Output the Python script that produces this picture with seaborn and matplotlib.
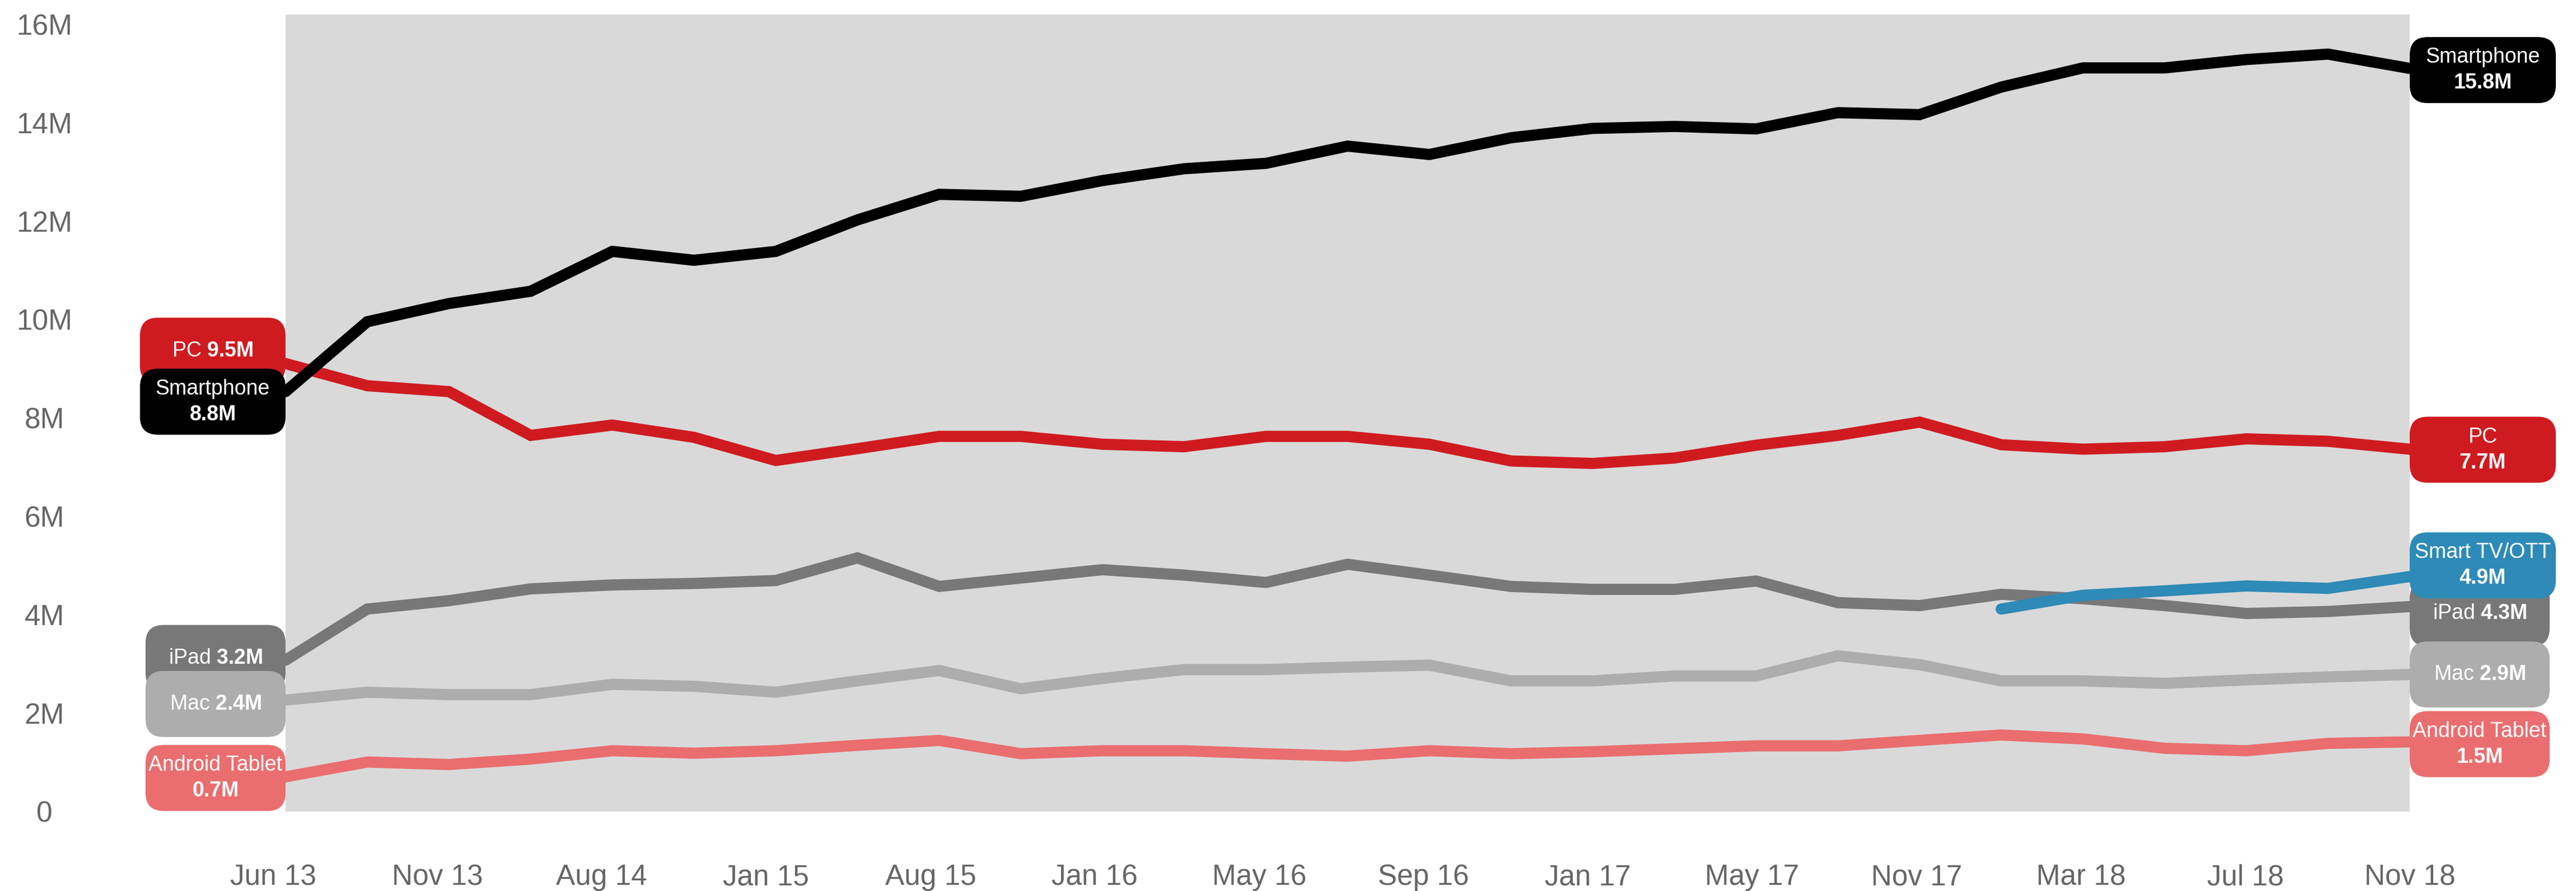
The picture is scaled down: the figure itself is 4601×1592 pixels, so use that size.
import numpy as np
import pandas as pd
import matplotlib
matplotlib.use("Agg")
import matplotlib.pyplot as plt
import matplotlib.transforms as mtransforms
import seaborn as sns
from matplotlib.patches import FancyBboxPatch

# ---------------- data (millions) ----------------
tick_labels = ["Jun 13", "Nov 13", "Aug 14", "Jan 15", "Aug 15", "Jan 16", "May 16",
               "Sep 16", "Jan 17", "May 17", "Nov 17", "Mar 18", "Jul 18", "Nov 18"]

smartphone = [8.53, 9.95, 10.32, 10.57, 11.38, 11.20, 11.38, 12.02, 12.54, 12.50, 12.82, 13.06,
              13.17, 13.52, 13.35, 13.69, 13.88, 13.92, 13.87, 14.20, 14.16, 14.72, 15.11, 15.11,
              15.28, 15.39, 15.10]
pc = [9.10, 8.65, 8.53, 7.64, 7.85, 7.60, 7.13, 7.37, 7.62, 7.62, 7.46, 7.41, 7.62, 7.62, 7.46,
      7.12, 7.07, 7.18, 7.44, 7.64, 7.91, 7.45, 7.36, 7.41, 7.57, 7.52, 7.36]
ipad = [3.07, 4.11, 4.28, 4.52, 4.60, 4.63, 4.69, 5.15, 4.57, 4.74, 4.91, 4.80, 4.65, 5.02, 4.80,
        4.57, 4.51, 4.51, 4.68, 4.24, 4.18, 4.41, 4.32, 4.18, 4.02, 4.06, 4.16]
mac = [2.26, 2.42, 2.37, 2.37, 2.58, 2.54, 2.42, 2.65, 2.86, 2.49, 2.70, 2.88, 2.88, 2.93, 2.97,
       2.65, 2.65, 2.75, 2.75, 3.16, 2.98, 2.65, 2.65, 2.60, 2.67, 2.73, 2.78]
android_tablet = [0.70, 1.00, 0.95, 1.06, 1.23, 1.18, 1.23, 1.34, 1.44, 1.17, 1.23, 1.23, 1.17,
                  1.12, 1.23, 1.17, 1.21, 1.27, 1.33, 1.33, 1.44, 1.55, 1.47, 1.28, 1.23, 1.38, 1.41]
smart_tv = [None] * 21 + [4.11, 4.39, 4.48, 4.58, 4.53, 4.77]

series_names = ["Smartphone", "PC", "iPad", "Mac", "Android Tablet", "Smart TV/OTT"]
series_values = [smartphone, pc, ipad, mac, android_tablet, smart_tv]

start_labels = {"PC": "9.5M", "Smartphone": "8.8M", "iPad": "3.2M", "Mac": "2.4M",
                "Android Tablet": "0.7M"}
end_labels = {"Smartphone": "15.8M", "PC": "7.7M", "iPad": "4.3M", "Smart TV/OTT": "4.9M",
              "Mac": "2.9M", "Android Tablet": "1.5M"}

# ---------------- style ----------------
colors = {"Smartphone": "#000000", "PC": "#cf1b20", "iPad": "#787878", "Mac": "#adadad",
          "Android Tablet": "#ea6e70", "Smart TV/OTT": "#2e8ab6"}
draw_order = ["Android Tablet", "Mac", "iPad", "PC", "Smart TV/OTT", "Smartphone"]

sns.set_theme(style="white")
plt.rcParams["font.family"] = ["Liberation Sans", "DejaVu Sans"]
plt.rcParams["mathtext.fontset"] = "custom"
plt.rcParams["mathtext.rm"] = "Liberation Sans"
plt.rcParams["mathtext.bf"] = "Liberation Sans:bold"
plt.rcParams["mathtext.it"] = "Liberation Sans:italic"

rows = []
for name, vals in zip(series_names, series_values):
    for i, v in enumerate(vals):
        if v is not None:
            rows.append({"idx": i, "value": v, "series": name})
df = pd.DataFrame(rows)

W, H = 4601, 1592
DPI = 100
fig = plt.figure(figsize=(W / DPI, H / DPI), dpi=DPI)
fig.patch.set_facecolor("white")
ax_left, ax_right, ax_top, ax_bot = 510, 4304, 25.5, 1449.5
ax = fig.add_axes([ax_left / W, 1 - ax_bot / H, (ax_right - ax_left) / W, (ax_bot - ax_top) / H])
ax.set_facecolor("#d9d9d9")

sns.lineplot(data=df, x="idx", y="value", hue="series", hue_order=draw_order,
             palette=colors, linewidth=14.4, estimator=None, sort=False,
             legend=False, ax=ax)
for ln in ax.get_lines():
    ln.set_solid_capstyle("round")
    ln.set_solid_joinstyle("miter")

n = len(smartphone)
tick_idx = list(range(0, n, 2))
ax.set_xticks(tick_idx)
ax.set_xticklabels(tick_labels)
ax.set_xlim(0, n - 1)
ax.set_ylim(0, 16.2)
yt = list(range(0, 17, 2))
ax.set_yticks(yt)
ax.set_yticklabels(["0" if t == 0 else f"{t}M" for t in yt])
ax.set_xlabel("")
ax.set_ylabel("")
ax.tick_params(length=0, labelsize=37, labelcolor="#666666")
ax.tick_params(axis="x", pad=67.5)
ax.tick_params(axis="y", pad=310)
for lab in ax.get_yticklabels():
    lab.set_horizontalalignment("center")

# category labels are spread evenly; the first one sits a little left of the first point
px_per_idx = (ax_right - ax_left) / (n - 1)
first_shift = -0.153
step = ((n - 1) - first_shift) / (len(tick_labels) - 1)
for k, lab in enumerate(ax.get_xticklabels()):
    dx_px = (first_shift + k * step - tick_idx[k]) * px_per_idx
    lab.set_transform(lab.get_transform() +
                      mtransforms.ScaledTranslation(dx_px / DPI, 0, fig.dpi_scale_trans))

for s in ax.spines.values():
    s.set_visible(False)
ax.grid(False)

# ---------------- label boxes (overlay in pixel space) ----------------
ov = fig.add_axes([0, 0, 1, 1], zorder=10)
ov.set_xlim(0, W)
ov.set_ylim(H, 0)
ov.axis("off")
ov.patch.set_alpha(0)

box_h = 118
# (name, width, pixel offset from line end, two lines?)
left_specs = [("PC", 260, -23, False), ("Smartphone", 260, 18, True), ("iPad", 250, -4, False),
              ("Mac", 250, 7, False), ("Android Tablet", 250, 2, True)]
right_specs = [("Smartphone", 261, 3, True), ("PC", 261, 1, True), ("iPad", 250, 12, False),
               ("Smart TV/OTT", 261, -20, True), ("Mac", 250, 0, False),
               ("Android Tablet", 250, 4, True)]
vals_by_name = dict(zip(series_names, series_values))


def pix_y(i, v):
    return H - ax.transData.transform((i, v))[1]


def draw_box(x0, w, cy, name, val, two_lines, color):
    patch = FancyBboxPatch((x0, cy - box_h / 2), w, box_h,
                           boxstyle="round,pad=0,rounding_size=32",
                           facecolor=color, edgecolor="none")
    ov.add_patch(patch)
    cx = x0 + w / 2
    if two_lines:
        ov.text(cx, cy - 23, name, color="white", fontsize=27, ha="center", va="center")
        ov.text(cx, cy + 23, val, color="white", fontsize=27, fontweight="bold",
                ha="center", va="center")
    else:
        ov.text(cx, cy, f"{name} $\\mathbf{{{val}}}$", color="white", fontsize=27,
                ha="center", va="center")


for name, w, off, two in left_specs:
    vals = vals_by_name[name]
    i0 = next(i for i, v in enumerate(vals) if v is not None)
    cy = pix_y(i0, vals[i0]) + off
    draw_box(ax_left - w, w, cy, name, start_labels[name], two, colors[name])

for name, w, off, two in right_specs:
    vals = vals_by_name[name]
    cy = pix_y(n - 1, vals[-1]) + off
    draw_box(ax_right, w, cy, name, end_labels[name], two, colors[name])

fig.savefig("out.png", dpi=DPI, facecolor="white")
